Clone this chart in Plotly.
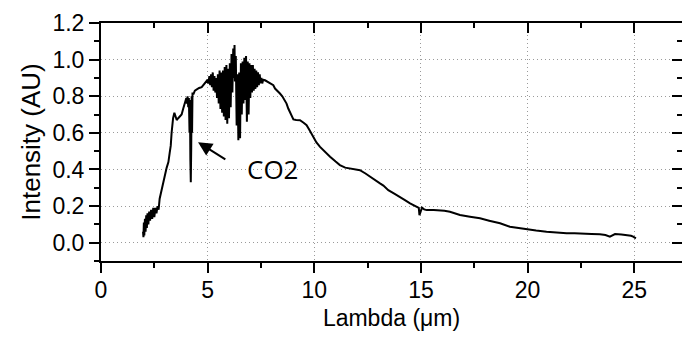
import plotly.graph_objects as go

# ---- data ----
lam_rise = [1.97, 1.99, 2.01, 2.03, 2.06, 2.09, 2.12, 2.15, 2.18, 2.22, 2.26, 2.30, 2.35, 2.40, 2.45,
            2.50, 2.55, 2.60, 2.65, 2.70, 2.75, 2.85, 2.92, 3.00, 3.08, 3.16, 3.22, 3.27, 3.31, 3.34,
            3.38, 3.44, 3.50, 3.55, 3.62, 3.70, 3.78, 3.85, 3.92, 3.97, 4.00, 4.03, 4.06, 4.09, 4.12,
            4.15, 4.17, 4.19, 4.21, 4.23, 4.25, 4.27, 4.29, 4.33, 4.40, 4.50, 4.60, 4.72, 4.80, 4.88, 4.95]
int_rise = [0.06, 0.03, 0.11, 0.04, 0.13, 0.06, 0.15, 0.08, 0.16, 0.10, 0.17, 0.12, 0.18, 0.13, 0.19,
            0.14, 0.19, 0.16, 0.20, 0.18, 0.24, 0.30, 0.34, 0.37, 0.41, 0.44, 0.49, 0.53, 0.60, 0.65,
            0.68, 0.71, 0.68, 0.67, 0.68, 0.69, 0.70, 0.73, 0.76, 0.77, 0.79, 0.76, 0.80, 0.74, 0.79,
            0.60, 0.78, 0.45, 0.33, 0.52, 0.80, 0.60, 0.82, 0.81, 0.83, 0.84, 0.845, 0.85, 0.86, 0.875, 0.88]

lam_water = [5.00, 5.04, 5.08, 5.12, 5.16, 5.20, 5.24, 5.28, 5.32, 5.36, 5.40, 5.44, 5.48, 5.52, 5.56,
             5.60, 5.64, 5.68, 5.72, 5.76, 5.80, 5.84, 5.88, 5.92, 5.96, 6.00, 6.04, 6.08, 6.12, 6.16,
             6.20, 6.24, 6.26, 6.28, 6.32, 6.36, 6.40, 6.44, 6.48, 6.52, 6.56, 6.60, 6.64, 6.68, 6.72,
             6.76, 6.80, 6.84, 6.88, 6.92, 6.96, 7.00, 7.04, 7.08, 7.12, 7.16, 7.20, 7.24, 7.28, 7.32,
             7.36, 7.40, 7.44, 7.48, 7.52, 7.56, 7.60]
int_water = [0.89, 0.87, 0.91, 0.86, 0.92, 0.85, 0.93, 0.83, 0.91, 0.82, 0.90, 0.79, 0.92, 0.76, 0.94,
             0.73, 0.93, 0.71, 0.94, 0.69, 0.96, 0.67, 0.97, 0.65, 0.95, 0.68, 0.98, 0.74, 1.03, 0.82,
             1.06, 0.90, 1.08, 0.88, 1.02, 0.64, 0.92, 0.56, 0.93, 0.57, 0.98, 0.70, 0.99, 0.76, 1.01,
             0.78, 1.02, 0.66, 0.99, 0.70, 0.98, 0.79, 0.97, 0.82, 0.97, 0.83, 0.95, 0.84, 0.94, 0.85,
             0.93, 0.86, 0.92, 0.87, 0.90, 0.87, 0.89]

lam_tail = [7.69, 7.80, 7.90, 8.00, 8.08, 8.16, 8.28, 8.39, 8.50, 8.63, 8.70, 8.78, 8.90, 9.02, 9.15,
            9.33, 9.50, 9.64, 9.80, 9.95, 10.10, 10.27, 10.50, 10.74, 11.00, 11.20, 11.45, 11.67, 11.90,
            12.14, 12.40, 12.61, 12.85, 13.08, 13.24, 13.47, 13.75, 14.02, 14.25, 14.49, 14.65, 14.80,
            14.90, 14.93, 14.97, 15.05, 15.15, 15.27, 15.60, 15.89, 16.10, 16.36, 16.60, 16.83, 17.30,
            17.77, 18.20, 18.71, 19.17, 19.55, 19.95, 20.40, 20.89, 21.35, 21.83, 22.20, 22.61, 23.00,
            23.39, 23.65, 23.86, 24.00, 24.10, 24.40, 24.64, 24.85, 24.95, 25.08]
int_tail = [0.887, 0.88, 0.875, 0.869, 0.86, 0.842, 0.83, 0.815, 0.80, 0.778, 0.76, 0.733, 0.70, 0.673, 0.670,
            0.669, 0.655, 0.642, 0.61, 0.578, 0.548, 0.523, 0.495, 0.469, 0.443, 0.424, 0.41, 0.406, 0.40,
            0.396, 0.378, 0.36, 0.342, 0.324, 0.312, 0.287, 0.268, 0.251, 0.233, 0.215, 0.205, 0.196,
            0.19, 0.151, 0.17, 0.191, 0.182, 0.178, 0.178, 0.178, 0.174, 0.169, 0.160, 0.151, 0.142,
            0.133, 0.12, 0.106, 0.087, 0.080, 0.073, 0.066, 0.060, 0.055, 0.051, 0.051, 0.051, 0.048,
            0.046, 0.042, 0.033, 0.042, 0.047, 0.045, 0.042, 0.038, 0.033, 0.024]

wavelength = lam_rise + lam_water + lam_tail
intensity = int_rise + int_water + int_tail

x_range = [0, 27.24]
y_range = [-0.1, 1.2]

FONT = "Liberation Sans, Arial, sans-serif"

fig = go.Figure()
fig.add_trace(go.Scatter(x=wavelength, y=intensity, mode="lines",
                         line=dict(color="black", width=2), showlegend=False, hoverinfo="skip"))
fig.add_trace(go.Scatter(x=[None], y=[None], xaxis="x2", yaxis="y2", showlegend=False,
                         hoverinfo="skip"))

grid = dict(showgrid=True, gridcolor="#9a9a9a", gridwidth=1, griddash="1px,3px")

fig.update_layout(
    width=682, height=338,
    margin=dict(l=101, r=0, t=23, b=77),
    paper_bgcolor="white", plot_bgcolor="white",
    font=dict(family=FONT, color="black", size=22),
    xaxis=dict(range=x_range, tick0=0, dtick=5, ticks="outside", ticklen=10, tickwidth=2,
               tickcolor="black", showline=True, linewidth=2, linecolor="black", zeroline=False,
               ticklabelstandoff=-3,
               minor=dict(dtick=2.5, ticks="outside", ticklen=5, tickwidth=2, tickcolor="black",
                          showgrid=False),
               tickfont=dict(size=23), title=dict(text="Lambda (μm)", font=dict(size=23), standoff=8),
               **grid),
    yaxis=dict(range=y_range, tick0=0, dtick=0.2, tickformat=".1f", ticks="outside", ticklen=10,
               tickwidth=2, tickcolor="black", showline=True, linewidth=2, linecolor="black",
               zeroline=False, ticklabelstandoff=0,
               minor=dict(dtick=0.1, ticks="outside", ticklen=5, tickwidth=2, tickcolor="black",
                          showgrid=False),
               tickfont=dict(size=23), title=dict(text="Intensity (AU)", font=dict(size=26), standoff=4),
               **grid),
    xaxis2=dict(range=x_range, overlaying="x", side="top", anchor="y", tick0=0, dtick=5,
                ticks="inside", ticklen=10, tickwidth=2, tickcolor="black", showticklabels=False,
                showline=True, linewidth=2, linecolor="black", showgrid=False, zeroline=False,
                minor=dict(dtick=2.5, ticks="inside", ticklen=5, tickwidth=2, tickcolor="black")),
    yaxis2=dict(range=y_range, overlaying="y", side="right", anchor="x", tick0=0, dtick=0.2,
                ticks="inside", ticklen=10, tickwidth=2, tickcolor="black", showticklabels=False,
                showline=False, showgrid=False, zeroline=False,
                minor=dict(dtick=0.1, ticks="inside", ticklen=5, tickwidth=2, tickcolor="black")),
)

fig.add_annotation(x=4.55, y=0.549, ax=5.9, ay=0.45, xref="x", yref="y", axref="x", ayref="y",
                   text="", showarrow=True, arrowhead=2, arrowsize=1.4, arrowwidth=2,
                   arrowcolor="black")
fig.add_annotation(x=8.06, y=0.40, xref="x", yref="y", text="CO2", showarrow=False,
                   font=dict(family="Open Sans, sans-serif", size=26, color="black"))

fig.write_html("out.html")
